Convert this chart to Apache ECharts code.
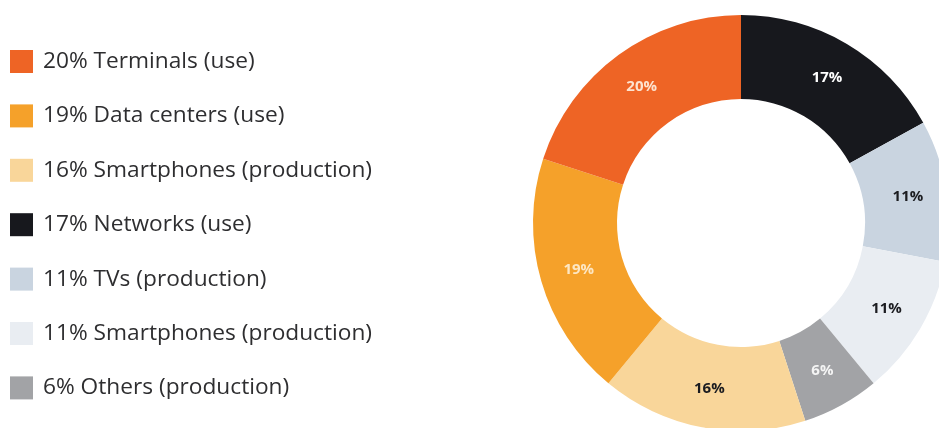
<!DOCTYPE html>
<html>
<head>
<meta charset="utf-8">
<script src="https://cdn.jsdelivr.net/npm/echarts@6/dist/echarts.min.js"></script>
<style>
  html, body { margin: 0; padding: 0; background: #ffffff; }
  #chart { width: 939px; height: 428px; }
</style>
</head>
<body>
<div id="chart"></div>
<script>
// Slices in drawing order, clockwise from 12 o'clock
const categories = [
  'Networks (use)',
  'TVs (production)',
  'Smartphones (production)',
  'Others (production)',
  'Smartphones (production)',
  'Data centers (use)',
  'Terminals (use)'
];
const values = [17, 11, 11, 6, 16, 19, 20];
const colors = ['#17181d', '#c9d4e0', '#e9edf2', '#a2a3a6', '#f9d69a', '#f5a12a', '#ee6425'];
const labelColors = ['#ffffff', '#1b1c20', '#1b1c20', '#f4f4f4', '#1b1c20', '#fde7c4', '#fde3cf'];

// Legend order (indices into the slice arrays)
const legendOrder = [6, 5, 4, 0, 1, 2, 3];

const names = categories.map((c, i) => values[i] + '% ' + c);

const chart = echarts.init(document.getElementById('chart'), null, { renderer: 'canvas' });

chart.setOption({
  animation: false,
  backgroundColor: '#ffffff',
  legend: {
    orient: 'vertical',
    left: 10,
    top: 50,
    padding: 0,
    icon: 'rect',
    itemWidth: 23,
    itemHeight: 23,
    itemGap: 31.4,
    selectedMode: false,
    data: legendOrder.map(i => names[i]),
    textStyle: {
      fontFamily: 'Open Sans',
      fontSize: 22.7,
      color: '#2e2e30',
      padding: [0, 0, 0, 5]
    }
  },
  series: [{
    type: 'pie',
    center: [741, 223],
    radius: [124, 208],
    startAngle: 90,
    clockwise: true,
    avoidLabelOverlap: false,
    itemStyle: { borderWidth: 0 },
    label: {
      show: true,
      position: 'inside',
      formatter: '{c}%',
      fontFamily: 'Open Sans',
      fontWeight: 'bold',
      fontSize: 15
    },
    labelLine: { show: false },
    emphasis: { disabled: true },
    data: values.map((v, i) => ({
      name: names[i],
      value: v,
      itemStyle: { color: colors[i] },
      label: { color: labelColors[i] }
    }))
  }]
});
</script>
</body>
</html>
